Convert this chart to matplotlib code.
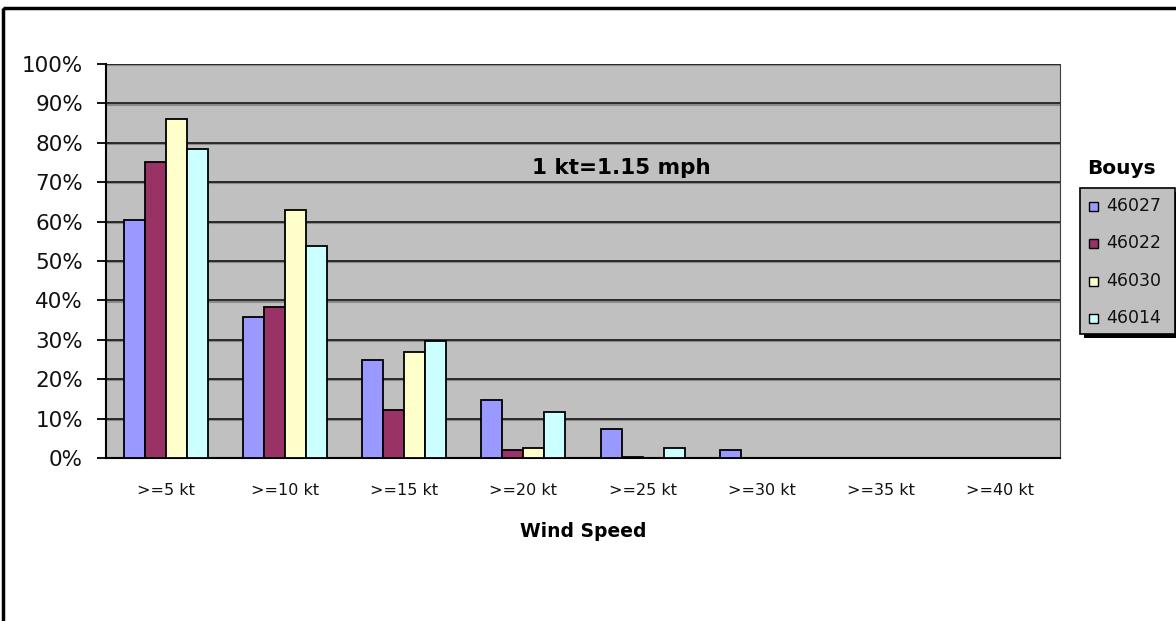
import matplotlib
matplotlib.use("Agg")
import matplotlib.pyplot as plt
import numpy as np
from matplotlib.patches import Rectangle

categories = [">=5 kt", ">=10 kt", ">=15 kt", ">=20 kt", ">=25 kt", ">=30 kt", ">=35 kt", ">=40 kt"]
series_names = ["46027", "46022", "46030", "46014"]
v46027 = [60.5, 35.8, 25.0, 14.8, 7.4, 2.1, 0.0, 0.0]
v46022 = [75.0, 38.4, 12.3, 2.1, 0.3, 0.0, 0.0, 0.0]
v46030 = [86.0, 63.0, 26.8, 2.5, 0.0, 0.0, 0.0, 0.0]
v46014 = [78.5, 53.8, 29.6, 11.8, 2.6, 0.0, 0.0, 0.0]
series_values = [v46027, v46022, v46030, v46014]
colors = ["#9999FF", "#993366", "#FFFFCC", "#CCFFFF"]
yticks = list(range(0, 101, 10))
ytick_labels = [f"{t}%" for t in yticks]

plt.rcParams['font.family'] = ['DejaVu Sans']

W, H = 1176, 621
fig = plt.figure(figsize=(W / 100, H / 100), dpi=100)
fig.patch.set_facecolor("white")

# pixel overlay for frame and legend
ov = fig.add_axes([0, 0, 1, 1], zorder=5)
ov.set_xlim(0, W)
ov.set_ylim(H, 0)
ov.axis("off")
ov.patch.set_alpha(0)
ov.add_patch(Rectangle((3, 8), W + 20, H + 20, fill=False, edgecolor="black", linewidth=2.5))

ax = fig.add_axes([106 / W, 1 - 458 / H, 954 / W, (458 - 64) / H], zorder=2)
ax.set_facecolor("#C0C0C0")

n = len(categories)
x = np.arange(n)
w = 0.176
for i, (name, vals, c) in enumerate(zip(series_names, series_values, colors)):
    ax.bar(x + (i - 1.5) * w, vals, width=w, color=c, edgecolor="black", linewidth=1.3,
           label=name, zorder=3)

ax.set_xlim(-0.5, n - 0.5)
ax.set_ylim(0, 100)
ax.set_yticks(yticks)
ax.set_yticklabels(ytick_labels, fontsize=15.5, color="#111111")
ax.set_xticks(x)
ax.set_xticklabels(categories, fontsize=11.5, color="#111111")
ax.tick_params(axis='x', length=0, pad=18)
ax.tick_params(axis='y', length=6.5, width=1.3, direction='out', pad=10)

for t in yticks[1:]:
    ax.axhline(t - 0.3, color="#8a8a8a", linewidth=1.5, zorder=1)
    ax.axhline(t, color="#202020", linewidth=1.3, zorder=2)

for s in ["left", "bottom"]:
    ax.spines[s].set_linewidth(1.5)
    ax.spines[s].set_color("black")
ax.spines["right"].set_color("#404040")
ax.spines["top"].set_visible(False)

ax.set_xlabel("Wind Speed", fontsize=13.5, fontweight="bold", labelpad=17)

ax.text(0.54, 0.735, "1 kt=1.15 mph", transform=ax.transAxes, fontsize=15.5,
        fontweight="bold", ha="center", va="center")

# legend (manual, in pixel overlay)
lx0, ly0, lx1, ly1 = 1080, 188, 1175, 334
ov.add_patch(Rectangle((lx0 + 4, ly0 + 4), lx1 - lx0, ly1 - ly0, facecolor="black",
                       edgecolor="none", zorder=1))
ov.add_patch(Rectangle((lx0, ly0), lx1 - lx0, ly1 - ly0, facecolor="#C0C0C0",
                       edgecolor="black", linewidth=1.2, zorder=2))
entry_y = [206, 243, 281, 318]
for name, c, yy in zip(series_names, colors, entry_y):
    ov.add_patch(Rectangle((1089, yy - 4.5), 9, 9, facecolor=c, edgecolor="black",
                           linewidth=1.0, zorder=3))
    ov.text(1106, yy, name, fontsize=12.5, ha="left", va="center", color="#111111", zorder=4)
ov.text(1121, 168, "Bouys", fontsize=14.5, fontweight="bold", ha="center", va="center")

fig.savefig("out.png", dpi=100)
